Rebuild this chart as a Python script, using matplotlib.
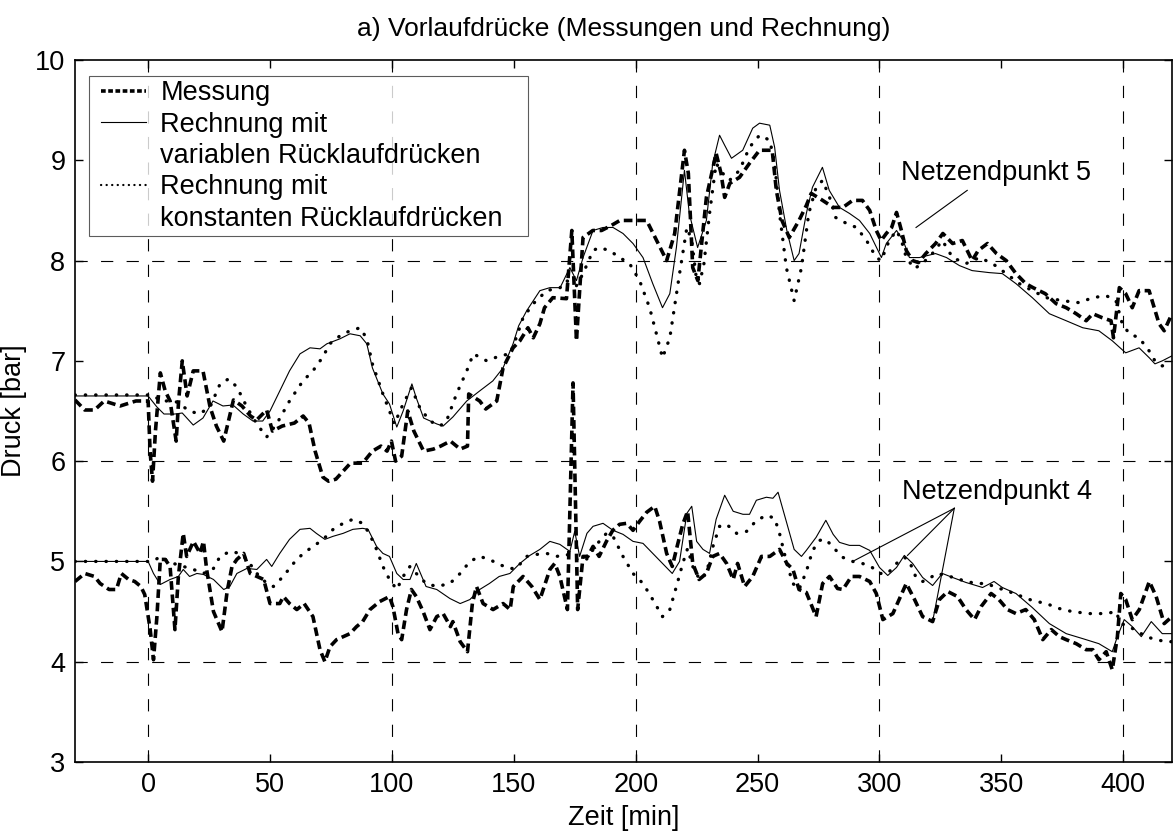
import matplotlib
matplotlib.use('Agg')
import matplotlib.pyplot as plt
from matplotlib.lines import Line2D
from matplotlib.legend_handler import HandlerLine2D

plt.rcParams['font.family'] = ['Liberation Sans', 'DejaVu Sans']

# Netzendpunkt 5 - Messung
m5_x = [-30, -26, -22, -18, -11.5, -5, 0, 0.8, 1.8, 3,
        5, 7, 9, 11.5, 12.5, 14, 16, 18.5, 22.5, 25.4,
        28, 31, 35, 38.5, 42, 44.5, 48.6, 51, 55, 60,
        63.6, 66, 68.5, 71.7, 74, 77, 80, 83, 88, 92,
        95.5, 98, 99.8, 101.5, 104, 106.5, 109, 113, 117, 120,
        124, 128, 131, 131.5, 136, 138.5, 143, 145.6, 149.7, 152.5,
        155.8, 158, 160.7, 162.6, 166, 171.6, 173.8, 175.7, 178.4, 182.4,
        186, 190, 193.5, 198, 204.5, 208.6, 212.7, 216, 220, 221.6,
        223.4, 225.5, 229, 233, 235, 236.5, 238.6, 242.6, 246.7, 250.8,
        256, 257.7, 260, 263, 267, 270, 272, 276.7, 281, 285,
        289, 293, 296, 298.7, 300.7, 302.8, 305, 307, 309, 311,
        313.6, 316, 319, 323, 326, 330, 334, 338, 340.5, 344.3,
        348, 352, 356, 360, 363, 368, 372.5, 376.6, 380.7, 384.8,
        387.5, 391.4, 395, 396, 398.4, 401, 403.7, 406.5, 410.6, 414.7,
        416.8, 420]
m5_y = [6.61, 6.51, 6.51, 6.6, 6.55, 6.6, 6.6, 6.1, 5.8, 6.3,
        6.88, 6.7, 6.6, 6.2, 6.6, 7.0, 6.65, 6.9, 6.9, 6.54,
        6.35, 6.2, 6.61, 6.55, 6.45, 6.41, 6.51, 6.3, 6.35, 6.38,
        6.45, 6.38, 6.1, 5.84, 5.8, 5.82, 5.9, 5.98, 5.98, 6.1,
        6.15, 6.1, 6.2, 6.0, 6.05, 6.5, 6.3, 6.1, 6.12, 6.15,
        6.2, 6.12, 6.15, 6.67, 6.6, 6.52, 6.6, 6.93, 7.13, 7.2,
        7.33, 7.23, 7.37, 7.53, 7.63, 7.62, 8.3, 7.2, 8.23, 8.3,
        8.3, 8.35, 8.4, 8.4, 8.4, 8.2, 8.0, 8.27, 9.1, 8.87,
        7.93, 7.8, 8.63, 9.07, 8.87, 8.63, 8.77, 8.83, 8.97, 9.1,
        9.1, 8.7, 8.4, 8.23, 8.4, 8.55, 8.67, 8.6, 8.53, 8.53,
        8.6, 8.6, 8.5, 8.3, 8.2, 8.27, 8.33, 8.48, 8.3, 8.1,
        8.0, 7.98, 8.07, 8.17, 8.27, 8.17, 8.2, 8.0, 8.1, 8.17,
        8.07, 8.0, 7.87, 7.77, 7.73, 7.67, 7.57, 7.53, 7.47, 7.4,
        7.47, 7.43, 7.4, 7.23, 7.73, 7.67, 7.53, 7.7, 7.7, 7.37,
        7.3, 7.47]

# Netzendpunkt 5 - Rechnung mit variablen Ruecklaufdruecken
v5_x = [-30, 0, 3.6, 6.5, 11, 14, 18.5, 22.5, 26.6, 30.7,
        34.8, 39, 43, 47, 50, 54, 58, 62.3, 66.4, 70.5,
        73.3, 78.7, 82.8, 87, 89.7, 92, 96.3, 99, 102, 104.6,
        108.2, 110, 113, 118.5, 121, 125, 130.7, 136, 141.4, 145.6,
        149.7, 152, 155.3, 160.7, 164.8, 169, 173, 175.7, 178.4, 182.5,
        186.6, 190.7, 194.8, 198.9, 203, 207, 211, 214, 216.7, 220,
        222, 225.4, 229, 231.6, 234.4, 236.5, 239.3, 243.9, 248, 250.8,
        255, 257, 259, 262, 265, 267, 270, 272.5, 276.6, 279.4,
        283.6, 287.7, 291.8, 296, 300.8, 302.8, 307, 309.7, 312.3, 316.4,
        323, 327.5, 332.8, 338, 345, 350.4, 356, 362.7, 369.7, 376.6,
        383.4, 390, 395.5, 401, 406.5, 410.7, 413, 416, 420]
v5_y = [6.65, 6.65, 6.54, 6.47, 6.47, 6.48, 6.36, 6.43, 6.6, 6.55,
        6.56, 6.47, 6.4, 6.4, 6.5, 6.7, 6.9, 7.07, 7.13, 7.12,
        7.17, 7.22, 7.27, 7.25, 7.17, 6.93, 6.67, 6.57, 6.34, 6.5,
        6.77, 6.63, 6.43, 6.37, 6.35, 6.44, 6.6, 6.7, 6.8, 6.93,
        7.17, 7.35, 7.5, 7.7, 7.73, 7.73, 7.93, 7.8, 8.03, 8.3,
        8.33, 8.33, 8.27, 8.17, 8.03, 7.77, 7.53, 7.67, 8.13, 8.9,
        8.47, 8.13, 8.4, 8.97, 9.25, 9.15, 9.02, 9.1, 9.32, 9.37,
        9.35, 9.13, 8.7, 8.3, 8.0, 8.07, 8.47, 8.73, 8.93, 8.7,
        8.53, 8.47, 8.4, 8.27, 8.03, 8.17, 8.3, 8.2, 8.03, 8.03,
        8.07, 8.03, 7.95, 7.9, 7.88, 7.87, 7.77, 7.63, 7.47, 7.4,
        7.33, 7.3, 7.2, 7.08, 7.13, 7.03, 6.97, 7.0, 7.05]

# Netzendpunkt 5 - Rechnung mit konstanten Ruecklaufdruecken
c5_x = [-30, 0, 1.5, 5.5, 11, 17, 21, 25.4, 29.5, 33,
        36.4, 40.5, 44.6, 48.6, 52.7, 58, 63.5, 67.6, 71.7, 74.5,
        78.7, 82.8, 87, 89.7, 92, 96.3, 99, 101, 104.6, 108,
        111.5, 115.6, 119.7, 122.4, 126.5, 130.7, 133.4, 138.9, 144.3, 148.4,
        151, 153.8, 158, 163.5, 169, 171.6, 175.7, 178.4, 182.5, 185,
        189.3, 193.4, 197.5, 201.6, 205.7, 208.5, 211, 214, 215.5, 218,
        221, 223, 225, 226.2, 228, 230.3, 233, 235.7, 238.5, 242.6,
        246.7, 250.8, 255, 257, 259, 261.8, 265, 268, 271, 274,
        276.7, 280, 282, 286.5, 290.6, 294.7, 298.7, 300.7, 304, 307,
        309, 311, 314.3, 317.6, 321.7, 325.8, 330, 335.5, 341, 346.4,
        352, 357.4, 362.7, 368.4, 375, 382, 387.4, 393, 397, 399.6,
        402.5, 406.5, 410.6, 413, 416, 420]
c5_y = [6.66, 6.66, 6.66, 6.6, 6.6, 6.5, 6.47, 6.54, 6.77, 6.82,
        6.74, 6.54, 6.37, 6.24, 6.37, 6.6, 6.8, 6.9, 7.04, 7.17,
        7.25, 7.3, 7.33, 7.22, 6.97, 6.67, 6.5, 6.37, 6.57, 6.73,
        6.53, 6.4, 6.35, 6.4, 6.67, 6.9, 7.07, 7.0, 7.05, 7.07,
        7.23, 7.43, 7.57, 7.7, 7.73, 7.8, 7.75, 7.87, 8.1, 8.13,
        8.1, 8.03, 7.97, 7.8, 7.53, 7.27, 7.03, 7.23, 7.47, 7.87,
        8.33, 8.2, 7.8, 7.77, 7.97, 8.47, 8.97, 8.87, 8.8, 8.9,
        9.13, 9.25, 9.2, 8.97, 8.47, 7.93, 7.6, 7.93, 8.47, 8.73,
        8.8, 8.6, 8.43, 8.37, 8.33, 8.2, 8.03, 8.0, 8.2, 8.3,
        8.2, 8.03, 7.92, 7.97, 8.07, 8.2, 8.03, 7.97, 8.03, 7.97,
        7.87, 7.77, 7.7, 7.63, 7.6, 7.58, 7.63, 7.65, 7.6, 7.37,
        7.27, 7.23, 7.1, 7.0, 6.95, 6.97]

# Netzendpunkt 4 - Messung
m4_x = [-30, -26, -22, -19.7, -16, -13, -11, -8, -5.5, -3,
        -1.4, 0.8, 2.2, 3.6, 5, 7, 9, 11, 12.4, 14.4,
        15.8, 18.6, 21.3, 22.7, 24, 26.8, 30.3, 32.4, 34.4, 36.4,
        39.2, 41.9, 44.6, 47.4, 50, 54, 55.5, 58, 61, 64,
        67.6, 70.5, 72.5, 74.6, 77.3, 80, 82.8, 85.5, 88, 91,
        95, 99, 100.4, 102.5, 104, 106, 108, 110, 112.8, 115.6,
        118.4, 121, 124, 125, 128, 131, 133, 134.7, 137.4, 141.5,
        145.6, 148.5, 149.8, 153.8, 157.4, 160.7, 164.8, 166.8, 168.9, 172,
        174.3, 176.2, 178.4, 180.4, 182.5, 185, 188, 190.6, 193.4, 196.3,
        198.9, 201.6, 204.5, 207.8, 209.8, 212.7, 215, 217, 219.3, 221.3,
        223.4, 226, 229, 231.6, 234.4, 237.3, 240, 241.8, 244.7, 248,
        251.6, 255, 259, 262, 264.5, 267, 270, 274, 276.7, 279.5,
        282.8, 285, 288.5, 291.8, 296, 298.7, 301.4, 305.5, 311, 314.4,
        317.7, 321.8, 324.6, 328, 332, 335.5, 339, 341.7, 345.8, 349,
        352.5, 356, 360, 363.5, 367, 370.5, 373.8, 376.6, 380.7, 384.8,
        387.5, 390, 393, 395.5, 397.6, 399, 401, 403.7, 406.6, 410.7,
        413.5, 416.8, 420]
m4_y = [4.8, 4.88, 4.85, 4.78, 4.72, 4.72, 4.88, 4.82, 4.8, 4.75,
        4.67, 4.33, 4.02, 4.45, 5.02, 5.02, 4.95, 4.32, 4.85, 5.28,
        5.05, 5.2, 5.08, 5.2, 4.92, 4.5, 4.3, 4.7, 4.95, 5.02,
        5.08, 4.88, 4.85, 4.82, 4.58, 4.58, 4.65, 4.58, 4.52, 4.58,
        4.45, 4.12, 4.0, 4.15, 4.22, 4.25, 4.28, 4.35, 4.4, 4.52,
        4.6, 4.65, 4.55, 4.28, 4.22, 4.52, 4.72, 4.65, 4.5, 4.32,
        4.45, 4.48, 4.35, 4.4, 4.2, 4.1, 4.58, 4.75, 4.58, 4.52,
        4.58, 4.52, 4.75, 4.85, 4.75, 4.62, 4.92, 4.98, 4.85, 4.52,
        6.78, 4.52, 5.05, 5.05, 5.15, 5.05, 5.2, 5.31, 5.37, 5.38,
        5.31, 5.4, 5.49, 5.55, 5.4, 5.08, 4.95, 5.15, 5.37, 5.5,
        4.98, 4.82, 4.88, 5.05, 5.08, 4.98, 4.82, 4.98, 4.75, 4.85,
        5.05, 5.05, 5.12, 4.98, 4.92, 4.72, 4.69, 4.45, 4.78, 4.85,
        4.73, 4.72, 4.85, 4.85, 4.8, 4.68, 4.42, 4.48, 4.78, 4.62,
        4.45, 4.4, 4.62, 4.7, 4.65, 4.52, 4.42, 4.55, 4.68, 4.62,
        4.52, 4.48, 4.52, 4.42, 4.22, 4.32, 4.25, 4.22, 4.18, 4.12,
        4.12, 4.02, 4.1, 3.92, 4.25, 4.68, 4.62, 4.42, 4.52, 4.8,
        4.65, 4.38, 4.45]

# Netzendpunkt 4 - Rechnung mit variablen Ruecklaufdruecken
v4_x = [-30, 0, 2.2, 5, 9, 12.4, 14.4, 17, 20, 22.7,
        26.8, 31, 33.5, 36.4, 40.5, 44.6, 48.6, 50.7, 54, 58,
        62.3, 66.4, 69, 72.5, 75.8, 80, 84, 88, 90.2, 93.7,
        96.3, 99, 102, 104.6, 107.4, 110, 114, 118.4, 123.8, 128,
        132, 136, 140, 144, 148.4, 152.5, 156.6, 160.7, 164.8, 168.9,
        173, 175, 177, 180, 182.5, 186.6, 190.7, 194.8, 198.9, 203,
        207, 211, 215, 218, 221, 223, 225, 227.6, 230.3, 233,
        236.5, 240, 244, 246.7, 249.5, 253.6, 256.3, 258.4, 262, 265,
        268, 270, 274, 278, 281, 283.6, 287.7, 291.8, 296, 300,
        303.4, 307, 310.2, 313.6, 317.7, 321.8, 325.8, 330, 335.5, 342.3,
        347, 350.4, 356, 362.7, 369.7, 376.6, 383.4, 390, 395.5, 397.6,
        400.4, 403.7, 407.4, 411.5, 416, 420]
v4_y = [5.0, 5.0, 4.88, 4.77, 4.82, 4.85, 4.92, 4.85, 4.88, 4.87,
        4.82, 4.72, 4.75, 4.88, 4.93, 4.92, 5.02, 4.95, 5.08, 5.22,
        5.32, 5.33, 5.28, 5.22, 5.25, 5.28, 5.32, 5.33, 5.32, 5.15,
        5.08, 5.05, 4.88, 4.82, 4.82, 4.98, 4.75, 4.72, 4.63, 4.58,
        4.62, 4.72, 4.78, 4.85, 4.88, 4.98, 5.06, 5.12, 5.2, 5.17,
        5.1, 5.3, 5.05, 5.28, 5.35, 5.38, 5.31, 5.27, 5.2, 5.18,
        5.08, 4.98, 4.88, 5.0, 5.48, 5.55, 5.2, 5.12, 5.08, 5.42,
        5.66, 5.5, 5.47, 5.47, 5.61, 5.64, 5.63, 5.69, 5.38, 5.12,
        5.05, 5.11, 5.24, 5.41, 5.27, 5.19, 5.16, 5.16, 5.11, 4.94,
        4.86, 4.94, 5.06, 4.98, 4.84, 4.76, 4.88, 4.84, 4.79, 4.74,
        4.8, 4.74, 4.68, 4.54, 4.38, 4.28, 4.23, 4.18, 4.1, 4.25,
        4.42, 4.35, 4.25, 4.4, 4.28, 4.28]

# Netzendpunkt 4 - Rechnung mit konstanten Ruecklaufdruecken
c4_x = [-30, 0, 2, 5, 9, 14.4, 18.6, 22.7, 26.8, 29.5,
        33.6, 37.7, 40.5, 44.6, 48.7, 51.4, 55.4, 59.6, 63.6, 67.7,
        71.8, 75.9, 80, 84, 88, 90.7, 93.7, 96.3, 99, 102,
        104.6, 107.4, 110, 114, 118.4, 123.8, 128, 132, 136, 140,
        144, 148.4, 151, 155.3, 159.4, 163.5, 167.6, 171.7, 175.8, 179.8,
        184, 188, 190.7, 194.8, 198.9, 203, 207, 211, 214, 216.7,
        219.3, 221.3, 223.4, 226.2, 229, 231.7, 234.4, 237.3, 241.4, 245.5,
        249.6, 253.7, 257, 259, 262, 264.5, 267, 270, 272.6, 275.4,
        278, 281, 285, 289, 293, 297, 300, 303.4, 307, 310.3,
        312.3, 315, 317.7, 320.5, 323.4, 327.5, 331.6, 335.7, 339.8, 343.9,
        348, 352, 357.4, 362.7, 368.4, 373.8, 379, 386, 393, 397,
        399, 401.7, 405.3, 409.4, 413.5, 417.6, 420]
c4_y = [5.0, 5.0, 5.0, 5.05, 4.99, 4.95, 4.92, 4.88, 4.93, 5.05,
        5.1, 5.08, 5.02, 4.88, 4.78, 4.75, 4.85, 4.98, 5.08, 5.15,
        5.22, 5.32, 5.38, 5.42, 5.38, 5.28, 5.12, 4.95, 4.82, 4.72,
        4.85, 4.95, 4.88, 4.78, 4.75, 4.78, 4.88, 5.0, 5.05, 5.02,
        4.97, 4.93, 4.93, 5.05, 5.07, 5.08, 5.05, 5.07, 5.02, 5.02,
        5.17, 5.28, 5.25, 5.05, 4.88, 4.78, 4.62, 4.45, 4.52, 4.75,
        4.98, 5.13, 4.95, 4.82, 4.88, 5.15, 5.35, 5.37, 5.28, 5.3,
        5.41, 5.46, 5.43, 5.28, 4.98, 4.78, 4.72, 4.9, 5.11, 5.21,
        5.22, 5.14, 5.04, 5.0, 4.98, 4.94, 4.88, 4.88, 4.98, 5.04,
        5.0, 4.84, 4.8, 4.83, 4.88, 4.86, 4.83, 4.8, 4.78, 4.78,
        4.74, 4.71, 4.66, 4.61, 4.58, 4.53, 4.5, 4.48, 4.48, 4.5,
        4.38, 4.36, 4.31, 4.25, 4.22, 4.2, 4.2]

grid_x = [0, 100, 200, 300, 400]
grid_y = [4, 6, 8]

FS = 19.5

meas_style = dict(color='black', lw=2.6, linestyle=(0, (2.4, 1.3)))
var_style = dict(color='black', lw=0.8, linestyle='-')
const_style = dict(color='black', lw=2.4, linestyle=(0, (0.1, 3.0)),
                   dash_capstyle='round')

fig = plt.figure(figsize=(11.75, 8.32), dpi=100)
ax = fig.add_axes([75 / 1175, 70 / 832, 1097 / 1175, 702 / 832])

# Grid only every 100 min and every 2 bar
for gx in grid_x:
    ax.axvline(gx, color='black', lw=0.8, linestyle=(0, (11, 12)), zorder=1)
for gy in grid_y:
    ax.axhline(gy, color='black', lw=0.8, linestyle=(0, (11, 12)), zorder=1)

ax.plot(m5_x, m5_y, **meas_style, zorder=3)
ax.plot(v5_x, v5_y, **var_style, zorder=4)
ax.plot(c5_x, c5_y, **const_style, zorder=3)
ax.plot(m4_x, m4_y, **meas_style, zorder=3)
ax.plot(v4_x, v4_y, **var_style, zorder=4)
ax.plot(c4_x, c4_y, **const_style, zorder=3)

ax.set_xlim(-30, 420)
ax.set_ylim(3, 10)
ax.set_xticks(range(0, 401, 50))
ax.set_yticks(range(3, 11))
ax.tick_params(direction='in', length=6, width=1, top=True, right=True,
               labelsize=FS, pad=7)
for sp in ax.spines.values():
    sp.set_linewidth(1.2)

ax.set_xlabel('Zeit [min]', fontsize=FS, labelpad=5)
ax.set_ylabel('Druck [bar]', fontsize=FS, labelpad=6)
ax.set_title('a) Vorlaufdrücke (Messungen und Rechnung)', fontsize=19, pad=17)

# Labels with leader lines
ax.text(309, 8.87, 'Netzendpunkt 5', fontsize=FS, va='center', ha='left')
ax.plot([336, 315], [8.7, 8.33], color='black', lw=0.8)
ax.text(309.4, 5.69, 'Netzendpunkt 4', fontsize=FS, va='center', ha='left')
for tx, ty in [(289.8, 5.01), (311.5, 5.06), (321.8, 4.4)]:
    ax.plot([330.7, tx], [5.53, ty], color='black', lw=0.8)

blank = Line2D([], [], color='none')
handles = [Line2D([], [], color='black', lw=2.6, linestyle=(0, (1.3, 0.7))),
           Line2D([], [], **var_style), blank,
           Line2D([], [], color='black', lw=1.6, linestyle=(0, (0.1, 2.4)),
                  dash_capstyle='round'),
           blank]
labels = ['Messung', 'Rechnung mit', 'variablen Rücklaufdrücken',
          'Rechnung mit', 'konstanten Rücklaufdrücken']
leg = ax.legend(handles, labels, loc='upper left',
                bbox_to_anchor=(0.0128, 0.777, 0.400, 0.2), mode='expand',
                borderaxespad=0,
                fontsize=FS, frameon=True, fancybox=False,
                handlelength=1.96, handletextpad=0.52, labelspacing=0.2,
                borderpad=0.15,
                handler_map={Line2D: HandlerLine2D(xpad=0.3)})
leg.get_frame().set_edgecolor('#333333')
leg.get_frame().set_linewidth(0.8)

fig.savefig('out.png', dpi=100)
